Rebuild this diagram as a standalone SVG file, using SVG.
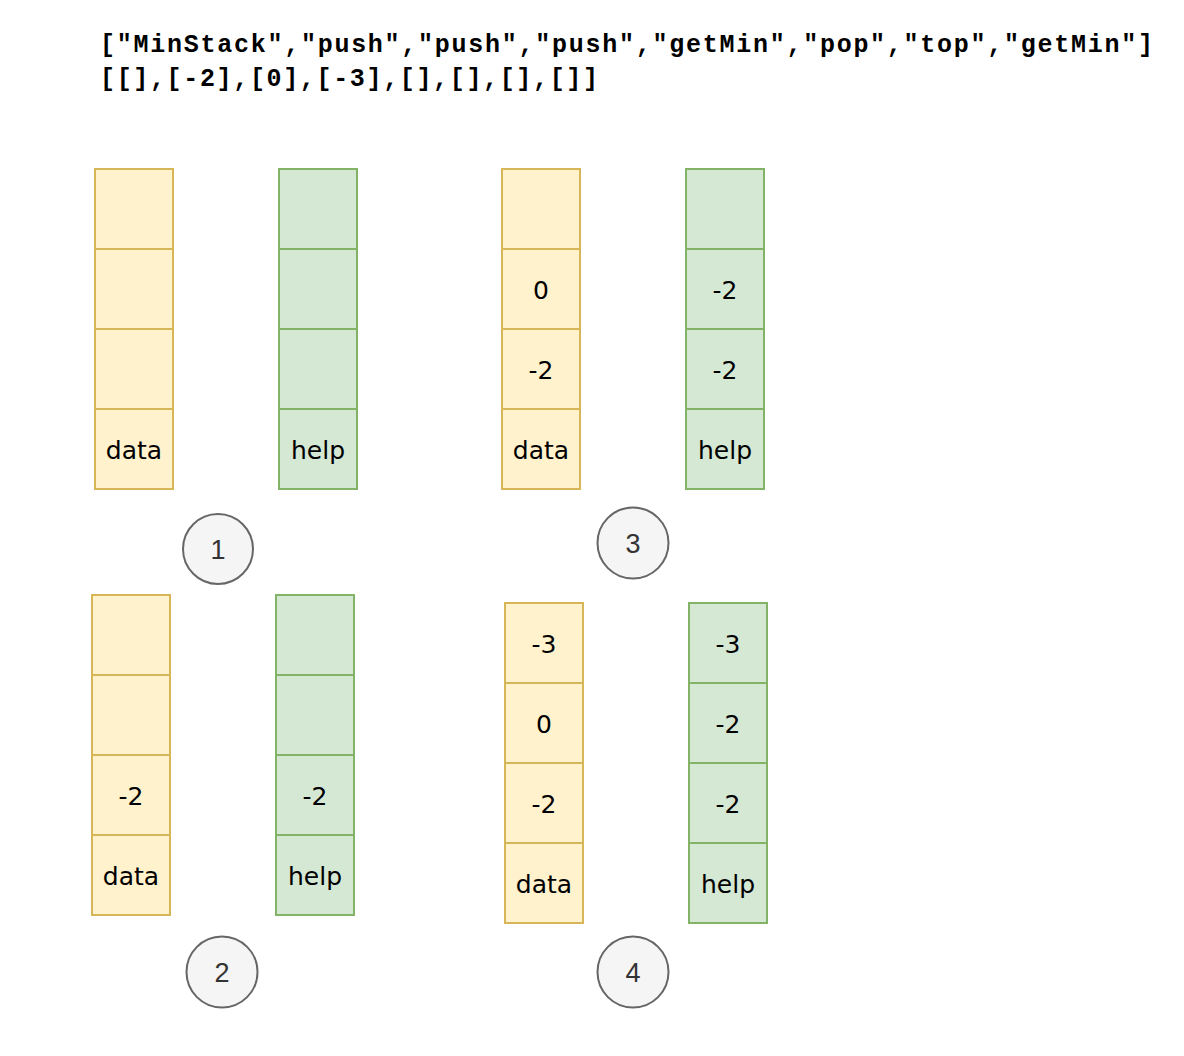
<svg xmlns="http://www.w3.org/2000/svg" width="1184" height="1056" viewBox="0 0 1184 1056">
  <style>
    .call { font-family: "Liberation Mono", "Courier New", monospace; font-weight: bold; font-size: 25px; fill: #000; }
    .data rect { fill: #fff2cc; stroke: #d6b656; stroke-width: 2; }
    .help rect { fill: #d5e8d4; stroke: #82b366; stroke-width: 2; }
    .cell { font-family: "DejaVu Sans", "Noto Sans", sans-serif; font-size: 25px; fill: #000; text-anchor: middle; dominant-baseline: central; }
    .step circle { fill: #f5f5f5; stroke: #666666; stroke-width: 2; }
    .step text { font-family: "Liberation Sans", Arial, sans-serif; font-size: 27px; fill: #333333; text-anchor: middle; dominant-baseline: central; }
  </style>

  <!-- operation sequence and arguments -->
  <g id="header">
    <text class="call" x="100" y="52" textLength="1053" lengthAdjust="spacing">["MinStack","push","push","push","getMin","pop","top","getMin"]</text>
    <text class="call" x="100" y="86" textLength="498" lengthAdjust="spacing">[[],[-2],[0],[-3],[],[],[],[]]</text>
  </g>

  <!-- step 1: both stacks empty -->
  <g id="stack1-data" class="data" transform="translate(95,169)">
    <rect x="0" y="0" width="78" height="80"/>
    <rect x="0" y="80" width="78" height="80"/>
    <rect x="0" y="160" width="78" height="80"/>
    <rect x="0" y="240" width="78" height="80"/>
    <text class="cell" x="39" y="281">data</text>
  </g>
  <g id="stack1-help" class="help" transform="translate(279,169)">
    <rect x="0" y="0" width="78" height="80"/>
    <rect x="0" y="80" width="78" height="80"/>
    <rect x="0" y="160" width="78" height="80"/>
    <rect x="0" y="240" width="78" height="80"/>
    <text class="cell" x="39" y="281">help</text>
  </g>
  <g id="step1" class="step">
    <circle cx="218" cy="549" r="35"/>
    <text x="218" y="550">1</text>
  </g>

  <!-- step 2: push -2 -->
  <g id="stack2-data" class="data" transform="translate(92,595)">
    <rect x="0" y="0" width="78" height="80"/>
    <rect x="0" y="80" width="78" height="80"/>
    <rect x="0" y="160" width="78" height="80"/>
    <rect x="0" y="240" width="78" height="80"/>
    <text class="cell" x="39" y="201">-2</text>
    <text class="cell" x="39" y="281">data</text>
  </g>
  <g id="stack2-help" class="help" transform="translate(276,595)">
    <rect x="0" y="0" width="78" height="80"/>
    <rect x="0" y="80" width="78" height="80"/>
    <rect x="0" y="160" width="78" height="80"/>
    <rect x="0" y="240" width="78" height="80"/>
    <text class="cell" x="39" y="201">-2</text>
    <text class="cell" x="39" y="281">help</text>
  </g>
  <g id="step2" class="step">
    <circle cx="222" cy="972" r="35.5"/>
    <text x="222" y="973">2</text>
  </g>

  <!-- step 3: push 0 -->
  <g id="stack3-data" class="data" transform="translate(502,169)">
    <rect x="0" y="0" width="78" height="80"/>
    <rect x="0" y="80" width="78" height="80"/>
    <rect x="0" y="160" width="78" height="80"/>
    <rect x="0" y="240" width="78" height="80"/>
    <text class="cell" x="39" y="121">0</text>
    <text class="cell" x="39" y="201">-2</text>
    <text class="cell" x="39" y="281">data</text>
  </g>
  <g id="stack3-help" class="help" transform="translate(686,169)">
    <rect x="0" y="0" width="78" height="80"/>
    <rect x="0" y="80" width="78" height="80"/>
    <rect x="0" y="160" width="78" height="80"/>
    <rect x="0" y="240" width="78" height="80"/>
    <text class="cell" x="39" y="121">-2</text>
    <text class="cell" x="39" y="201">-2</text>
    <text class="cell" x="39" y="281">help</text>
  </g>
  <g id="step3" class="step">
    <circle cx="633" cy="543" r="35.5"/>
    <text x="633" y="544">3</text>
  </g>

  <!-- step 4: push -3 -->
  <g id="stack4-data" class="data" transform="translate(505,603)">
    <rect x="0" y="0" width="78" height="80"/>
    <rect x="0" y="80" width="78" height="80"/>
    <rect x="0" y="160" width="78" height="80"/>
    <rect x="0" y="240" width="78" height="80"/>
    <text class="cell" x="39" y="41">-3</text>
    <text class="cell" x="39" y="121">0</text>
    <text class="cell" x="39" y="201">-2</text>
    <text class="cell" x="39" y="281">data</text>
  </g>
  <g id="stack4-help" class="help" transform="translate(689,603)">
    <rect x="0" y="0" width="78" height="80"/>
    <rect x="0" y="80" width="78" height="80"/>
    <rect x="0" y="160" width="78" height="80"/>
    <rect x="0" y="240" width="78" height="80"/>
    <text class="cell" x="39" y="41">-3</text>
    <text class="cell" x="39" y="121">-2</text>
    <text class="cell" x="39" y="201">-2</text>
    <text class="cell" x="39" y="281">help</text>
  </g>
  <g id="step4" class="step">
    <circle cx="633" cy="972" r="35.5"/>
    <text x="633" y="973">4</text>
  </g>

  <g id="connectors"/>
</svg>
